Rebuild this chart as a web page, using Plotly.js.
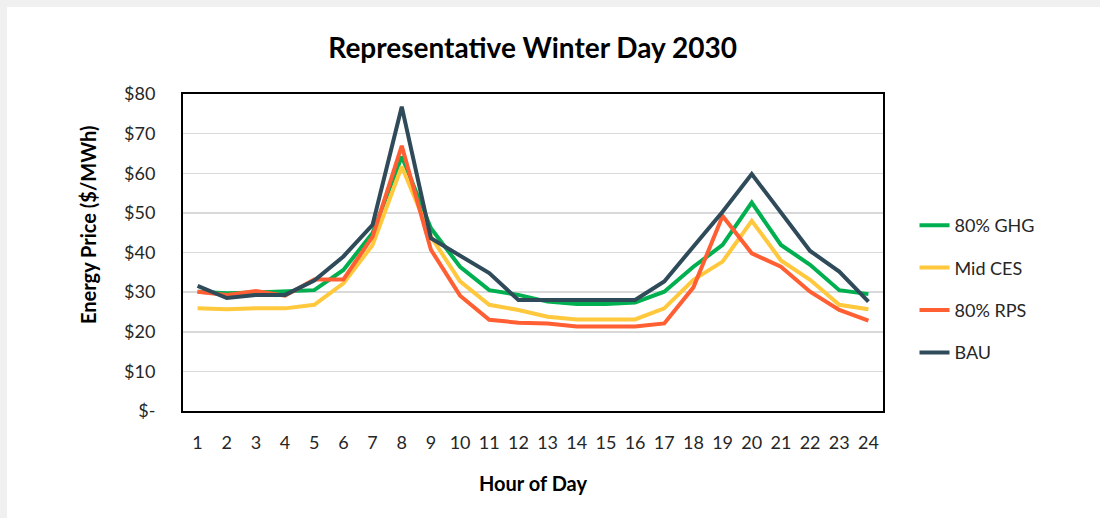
<!DOCTYPE html>
<html>
<head>
<meta charset="utf-8">
<script src="https://cdn.plot.ly/plotly-3.0.1.min.js"></script>
<style>
  html, body { margin: 0; padding: 0; background: #ffffff; }
  #chart { width: 1112px; height: 518px; }
</style>
</head>
<body>
<div id="chart"></div>
<script>
// Hour of day categories
const hours = ['1','2','3','4','5','6','7','8','9','10','11','12','13','14','15','16','17','18','19','20','21','22','23','24'];

// Energy price ($/MWh) per scenario
const ghg80 = [30.1, 29.7, 29.9, 30.3, 30.5, 35.6, 44.9, 64.2, 46.1, 36.4, 30.5, 29.3, 27.6, 27.0, 27.0, 27.4, 30.1, 36.4, 41.9, 52.6, 41.9, 36.9, 30.5, 29.5];
const midCES = [25.9, 25.7, 25.9, 25.9, 26.8, 32.2, 41.9, 61.7, 44.0, 32.7, 26.8, 25.5, 23.8, 23.1, 23.1, 23.1, 25.9, 33.1, 37.7, 48.0, 38.0, 33.1, 26.8, 25.7];
const rps80 = [30.1, 29.3, 30.3, 29.1, 33.2, 33.2, 44.0, 66.9, 40.7, 29.1, 23.0, 22.3, 22.1, 21.3, 21.3, 21.3, 22.1, 31.2, 49.2, 39.8, 36.4, 30.1, 25.5, 22.8];
const bau = [31.6, 28.5, 29.3, 29.3, 32.9, 39.0, 47.0, 76.8, 43.6, 39.2, 34.8, 28.0, 28.0, 28.0, 28.0, 28.0, 32.7, 41.5, 50.3, 59.8, 49.9, 40.4, 35.2, 27.6];

// Series names and colours
const seriesNames = ['80% GHG', 'Mid CES', '80% RPS', 'BAU'];
const seriesColors = ['#00B050', '#FFC83D', '#FF5F33', '#2F4B5A'];
const seriesValues = [ghg80, midCES, rps80, bau];

// Y axis ticks
const yTickVals = [0, 10, 20, 30, 40, 50, 60, 70, 80];
const yTickText = ['$-', '$10', '$20', '$30', '$40', '$50', '$60', '$70', '$80'];

const FONT = 'Lato, "Open Sans", "Liberation Sans", sans-serif';

const traces = seriesValues.map((vals, i) => ({
  type: 'scatter',
  mode: 'lines',
  x: hours,
  y: vals,
  name: seriesNames[i],
  legendgroup: 'g' + i,
  line: { color: seriesColors[i], width: 4 },
  hoverinfo: 'x+y+name'
}));

const layout = {
  width: 1112,
  height: 518,
  paper_bgcolor: '#ffffff',
  plot_bgcolor: '#ffffff',
  margin: { l: 183, r: 229, t: 94, b: 107 },
  font: { family: FONT, color: '#262626', size: 18 },
  title: {
    text: '<b>Representative Winter Day 2030</b>',
    font: { family: FONT, size: 28, color: '#000000' },
    x: 0.479, xanchor: 'center',
    y: 0.907, yanchor: 'middle'
  },
  xaxis: {
    type: 'category',
    range: [-0.5, 23.5],
    tickvals: hours,
    ticktext: hours,
    showgrid: false,
    zeroline: false,
    showline: true,
    linecolor: '#000000',
    linewidth: 2,
    mirror: true,
    ticks: '',
    ticklabelstandoff: 14,
    tickfont: { family: FONT, size: 18, color: '#262626' },
    title: {
      text: '<b>Hour of Day</b>',
      font: { family: FONT, size: 20, color: '#000000' },
      standoff: 25
    }
  },
  yaxis: {
    range: [0, 80],
    tickvals: yTickVals,
    ticktext: yTickText,
    showgrid: true,
    gridcolor: '#D9D9D9',
    gridwidth: 1.5,
    zeroline: false,
    showline: true,
    linecolor: '#000000',
    linewidth: 2,
    mirror: true,
    ticks: '',
    ticklabelstandoff: 22,
    tickfont: { family: FONT, size: 18, color: '#262626' }
  },
  legend: {
    x: 1.045, xanchor: 'left',
    y: (411 - 289) / 317, yanchor: 'middle',
    traceorder: 'grouped',
    tracegroupgap: 16,
    font: { family: FONT, size: 18, color: '#262626' },
    bgcolor: 'rgba(0,0,0,0)'
  },
  annotations: [{
    text: '<b>Energy Price ($/MWh)</b>',
    xref: 'paper', yref: 'paper',
    x: (88 - 183) / 700, y: (411 - 225) / 317,
    xanchor: 'center', yanchor: 'middle',
    textangle: -90,
    showarrow: false,
    font: { family: FONT, size: 20, color: '#000000' }
  }],
  shapes: [
    { type: 'rect', xref: 'paper', yref: 'paper', layer: 'below',
      x0: -183/700 - 0.01, x1: (1100-183)/700, y0: (411 - 7) / 317, y1: 411/317 + 0.01,
      fillcolor: '#F0F0F0', line: { width: 0 } },
    { type: 'rect', xref: 'paper', yref: 'paper', layer: 'below',
      x0: -183/700 - 0.01, x1: (7-183)/700, y0: -107/317 - 0.01, y1: 411/317 + 0.01,
      fillcolor: '#F0F0F0', line: { width: 0 } }
  ]
};

Plotly.newPlot('chart', traces, layout, { displayModeBar: false, staticPlot: true });
</script>
</body>
</html>
